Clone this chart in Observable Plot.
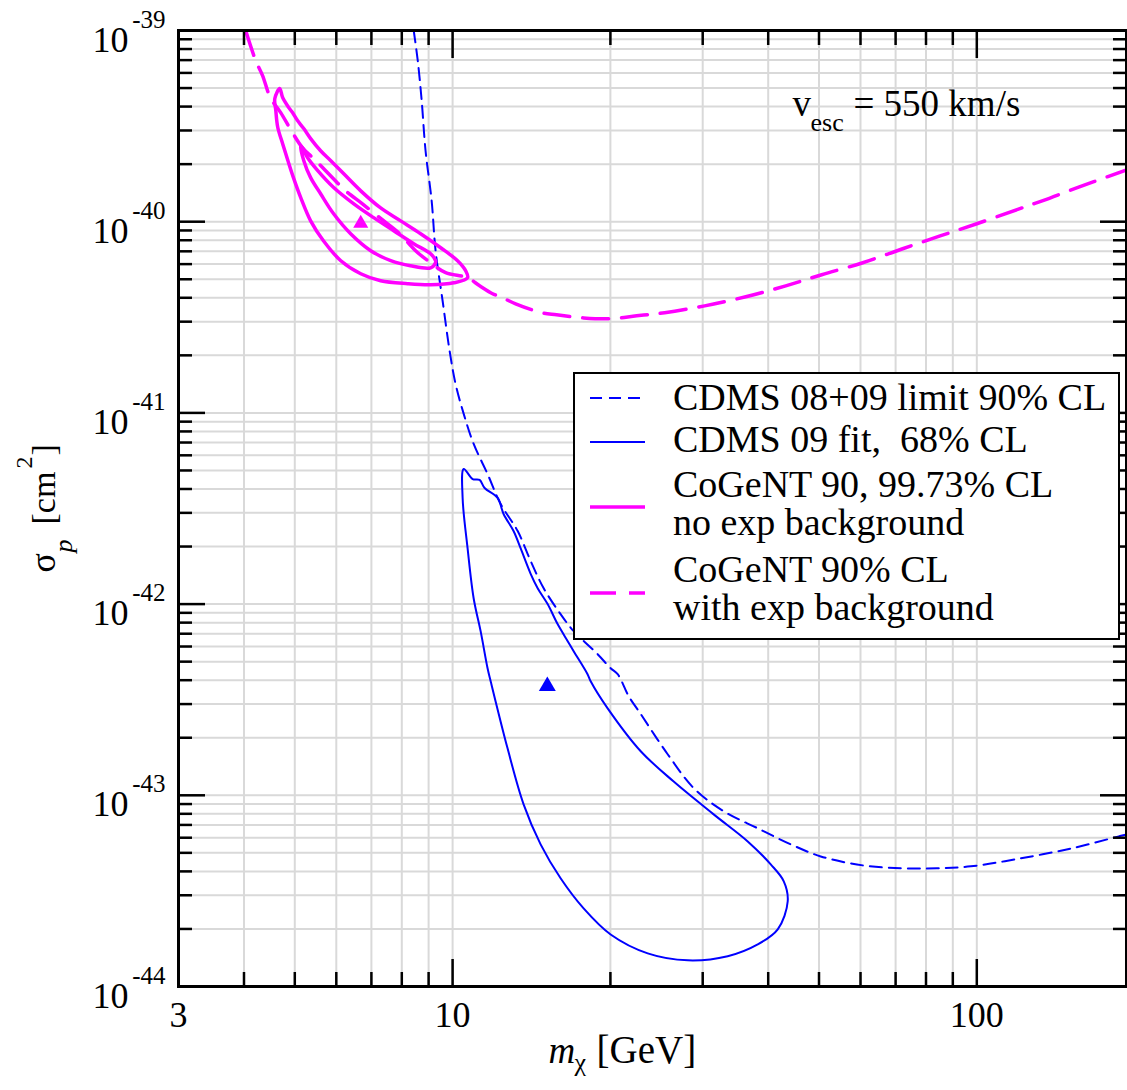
<!DOCTYPE html>
<html>
<head>
<meta charset="utf-8">
<script src="https://cdn.jsdelivr.net/npm/d3@7"></script>
<script src="https://cdn.jsdelivr.net/npm/@observablehq/plot@0.6"></script>
<style>
  body { margin: 0; background: #fff; }
  #wrap { position: relative; width: 1127px; height: 1090px; font-family: "Liberation Serif", "Times New Roman", serif; }
  #legend { position: absolute; left: 573px; top: 372px; }
</style>
</head>
<body>
<div id="wrap"></div>
<script>
// ---------- data (mass in GeV, cross section in cm^2) ----------
const cdmsLimit = [
  [8.43,1e-39],[8.58,6.97e-40],[8.73,4.30e-40],[8.88,2.35e-40],[9.12,1.29e-40],[9.28,7.05e-41],
  [9.57,3.86e-41],[9.87,2.11e-41],[10.13,1.42e-41],[10.50,9.88e-42],[10.97,6.88e-42],[11.66,4.79e-42],
  [12.35,3.34e-42],[13.31,2.41e-42],[14.09,1.68e-42],[14.92,1.21e-42],[16.07,8.86e-43],[17.02,7.22e-43],
  [18.91,5.47e-43],[20.02,4.62e-43],[20.65,4.30e-43],[21.67,3.30e-43],[22.85,2.66e-43],[25.72,1.64e-43],
  [28.84,1.09e-43],[32.90,8.25e-44],[38.20,6.72e-44],[44.17,5.54e-44],[50.38,4.79e-44],[60.6,4.30e-44],
  [72.2,4.15e-44],[83.9,4.15e-44],[97.4,4.25e-44],[121.3,4.68e-44],[151.8,5.28e-44],[186.6,6.10e-44],
  [193.3,6.25e-44]
];
const cdmsFit = [
  [10.50,5.09e-42],[10.92,4.51e-42],[11.26,4.46e-42],[11.51,4.05e-42],[12.19,3.59e-42],[12.51,2.96e-42],
  [13.07,2.41e-42],[13.48,1.96e-42],[14.09,1.44e-42],[14.53,1.21e-42],[15.18,1.00e-42],[15.86,7.86e-43],
  [16.58,6.40e-43],[17.02,5.67e-43],[18.09,4.30e-43],[18.34,3.95e-43],[19.76,2.85e-43],[22.85,1.70e-43],
  [26.41,1.18e-43],[31.48,7.95e-44],[36.56,5.74e-44],[40.45,4.35e-44],[42.83,3.55e-44],[43.58,2.79e-44],
  [41.71,1.99e-44],[38.20,1.66e-44],[33.48,1.44e-44],[28.09,1.37e-44],[23.56,1.49e-44],[20.02,1.87e-44],
  [17.78,2.56e-44],[16.07,3.68e-44],[14.72,5.54e-44],[13.66,8.97e-44],[12.73,1.76e-43],[11.82,3.95e-43],
  [11.66,4.62e-43],[11.31,7.22e-43],[10.97,1.07e-42],[10.68,1.96e-42],[10.45,3.59e-42]
];
const cogentOuter = [
  [4.68,4.97e-40],[4.74,4.46e-40],[4.87,3.95e-40],[4.95,3.72e-40],[5.06,3.38e-40],[5.20,3.07e-40],
  [5.36,2.72e-40],[5.60,2.35e-40],[5.85,2.09e-40],[6.20,1.78e-40],[6.68,1.45e-40],[7.29,1.18e-40],
  [7.96,1.01e-40],[8.69,8.65e-41],[9.49,7.31e-41],[10.22,6.25e-41],[10.59,5.54e-41],[10.68,5.09e-41],
  [10.05,4.79e-41],[9.08,4.68e-41],[8.21,4.74e-41],[7.29,4.91e-41],[6.68,5.34e-41],[6.12,6.25e-41],
  [5.67,7.95e-41],[5.36,1.01e-40],[5.13,1.34e-40],[4.97,1.70e-40],[4.85,2.09e-40],[4.74,2.56e-40],
  [4.64,3.11e-40],[4.60,3.81e-40],[4.58,4.41e-40]
];
const cogentInner = [
  [5.13,2.50e-40],[5.17,2.44e-40],[5.29,2.16e-40],[5.53,1.85e-40],[5.93,1.51e-40],[6.48,1.24e-40],
  [7.07,1.05e-40],[7.72,8.97e-41],[8.43,7.67e-41],[9.08,6.80e-41],[9.28,6.25e-41],[9.28,6.10e-41],
  [9.08,5.74e-41],[8.31,5.88e-41],[7.62,6.25e-41],[6.98,7.05e-41],[6.39,8.65e-41],[5.93,1.10e-40],
  [5.60,1.40e-40],[5.36,1.70e-40],[5.20,2.09e-40]
];
const cogentExp = [
  [4.03,1e-39],[4.21,6.97e-40],[4.34,5.81e-40],[4.49,4.46e-40],[4.70,3.72e-40],[4.95,2.92e-40],
  [5.17,2.44e-40],[5.48,2.09e-40],[5.85,1.74e-40],[6.25,1.45e-40],[6.73,1.24e-40],[7.29,1.04e-40],
  [7.89,8.76e-41],[8.50,7.05e-41],[9.08,6.10e-41],[9.70,5.41e-41],[10.68,5.09e-41],[11.26,4.62e-41],
  [11.92,4.20e-41],[12.46,4.00e-41],[13.19,3.72e-41],[14.79,3.34e-41],[15.79,3.26e-41],[17.78,3.14e-41],
  [20.02,3.11e-41],[22.45,3.22e-41],[25.38,3.34e-41],[30.26,3.63e-41],[36.25,4.05e-41],[43.2,4.62e-41],
  [50.6,5.28e-41],[60.6,6.10e-41],[72.2,7.22e-41],[85.4,8.45e-41],[100,9.76e-41],[119.7,1.16e-40],
  [133.7,1.29e-40],[149.8,1.45e-40],[167.2,1.62e-40],[193.3,1.87e-40]
];
const cogentBest = [{m: 6.68, s: 9.8e-41}];
const cdmsBest = [{m: 15.16, s: 3.72e-43}];

// ---------- axes ----------
const xDomain = [3, 193];
const yDomain = [1e-44, 1e-39];
const xMajor = [10, 100];
const xMinor = [4, 5, 6, 7, 8, 9, 20, 30, 40, 50, 60, 70, 80, 90];
const xTickLabels = [3, 10, 100];
const yDecades = [1e-44, 1e-43, 1e-42, 1e-41, 1e-40, 1e-39];
const yExponents = ["-44", "-43", "-42", "-41", "-40", "-39"];
const mantissas = [2, 3, 4, 5, 6, 7, 8, 9];
const yMinor = yDecades.slice(0, 5).flatMap(d => mantissas.map(m => m * d));
const xGrid = xMinor.concat(xMajor);
const yGrid = yMinor.concat(yDecades);

// ---------- legend ----------
const legendItems = [
  {lines: ["CDMS 08+09 limit 90% CL"], color: "#0000ff", width: 2, dash: "12,7"},
  {lines: ["CDMS 09 fit,  68% CL"], color: "#0000ff", width: 2, dash: null},
  {lines: ["CoGeNT 90, 99.73% CL", "no exp background"], color: "#ff00ff", width: 3.5, dash: null},
  {lines: ["CoGeNT 90% CL", "with exp background"], color: "#ff00ff", width: 3.5, dash: "26,13"}
];

const BLUE = "#0000ff", MAG = "#ff00ff", GRID = "#d9d9d9";
const tickStyle = {stroke: "black", strokeWidth: 2.5, tickFormat: () => "", label: null};
const P = d => d[0], S = d => d[1];

const chart = Plot.plot({
  width: 1127,
  height: 1090,
  marginLeft: 178,
  marginRight: 1,
  marginTop: 30,
  marginBottom: 104,
  style: {fontFamily: "Liberation Serif, Times New Roman, serif", background: "white", color: "black"},
  x: {type: "log", domain: xDomain, label: null},
  y: {type: "log", domain: yDomain, label: null},
  marks: [
    Plot.gridX(xGrid, {stroke: GRID, strokeOpacity: 1, strokeWidth: 2}),
    Plot.gridY(yGrid, {stroke: GRID, strokeOpacity: 1, strokeWidth: 2}),

    Plot.line(cdmsLimit, {x: P, y: S, stroke: BLUE, strokeWidth: 2, strokeDasharray: "12,7", curve: "catmull-rom", clip: true}),
    Plot.line(cdmsFit, {x: P, y: S, stroke: BLUE, strokeWidth: 2, curve: "catmull-rom-closed", clip: true}),
    Plot.line(cogentExp, {x: P, y: S, stroke: MAG, strokeWidth: 3.5, strokeDasharray: "26,13", curve: "catmull-rom", clip: true}),
    Plot.line(cogentOuter, {x: P, y: S, stroke: MAG, strokeWidth: 3.5, curve: "catmull-rom-closed", clip: true}),
    Plot.line(cogentInner, {x: P, y: S, stroke: MAG, strokeWidth: 3.5, curve: "catmull-rom-closed", clip: true}),
    Plot.dot(cogentBest, {x: "m", y: "s", symbol: "triangle", fill: MAG, r: 5.6, stroke: null}),
    Plot.dot(cdmsBest, {x: "m", y: "s", symbol: "triangle", fill: BLUE, r: 6.3, stroke: null}),

    // inward ticks on all four sides
    Plot.axisX(xMinor, {...tickStyle, anchor: "bottom", tickSize: 14, dy: -14}),
    Plot.axisX(xMajor, {...tickStyle, anchor: "bottom", tickSize: 27, dy: -27}),
    Plot.axisX(xMinor, {...tickStyle, anchor: "top", tickSize: 14, dy: 14}),
    Plot.axisX(xMajor, {...tickStyle, anchor: "top", tickSize: 27, dy: 27}),
    Plot.axisY(yMinor, {...tickStyle, anchor: "left", tickSize: 14, dx: 14}),
    Plot.axisY(yDecades, {...tickStyle, anchor: "left", tickSize: 27, dx: 27}),
    Plot.axisY(yMinor, {...tickStyle, anchor: "right", tickSize: 14, dx: -14}),
    Plot.axisY(yDecades, {...tickStyle, anchor: "right", tickSize: 27, dx: -27}),
    Plot.frame({stroke: "black", strokeWidth: 3}),

    // tick labels
    Plot.text(xTickLabels, {x: d => d, frameAnchor: "bottom", text: d => String(d), lineAnchor: "bottom", dy: 40, fontSize: 36, fill: "black"}),
    Plot.text(yDecades, {y: d => d, frameAnchor: "left", text: () => "10", textAnchor: "end", lineAnchor: "bottom", dx: -50, dy: 21, fontSize: 36, fill: "black"}),
    Plot.text(yDecades, {y: d => d, frameAnchor: "left", text: (d, i) => yExponents[i], textAnchor: "end", lineAnchor: "bottom", dx: -13, dy: -3, fontSize: 25, fill: "black"}),

    // x axis label: m_chi [GeV]
    Plot.text(["m"], {frameAnchor: "bottom", text: d => d, textAnchor: "start", lineAnchor: "bottom", dx: -104, dy: 76, fontSize: 37, fontStyle: "italic", fill: "black"}),
    Plot.text(["χ"], {frameAnchor: "bottom", text: d => d, textAnchor: "start", lineAnchor: "bottom", dx: -78, dy: 84, fontSize: 26, fill: "black"}),
    Plot.text(["[GeV]"], {frameAnchor: "bottom", text: d => d, textAnchor: "start", lineAnchor: "bottom", dx: -56, dy: 76, fontSize: 39, fill: "black"}),

    // y axis label: sigma_p [cm^2]
    Plot.text(["σ"], {frameAnchor: "left", text: d => d, textAnchor: "start", lineAnchor: "bottom", rotate: -90, dx: -124, dy: 64, fontSize: 36, fill: "black"}),
    Plot.text(["p"], {frameAnchor: "left", text: d => d, textAnchor: "start", lineAnchor: "bottom", rotate: -90, dx: -107, dy: 44, fontSize: 26, fontStyle: "italic", fill: "black"}),
    Plot.text(["[cm"], {frameAnchor: "left", text: d => d, textAnchor: "start", lineAnchor: "bottom", rotate: -90, dx: -124, dy: 16, fontSize: 34, fill: "black"}),
    Plot.text(["2"], {frameAnchor: "left", text: d => d, textAnchor: "start", lineAnchor: "bottom", rotate: -90, dx: -147, dy: -40, fontSize: 24, fill: "black"}),
    Plot.text(["]"], {frameAnchor: "left", text: d => d, textAnchor: "start", lineAnchor: "bottom", rotate: -90, dx: -124, dy: -53, fontSize: 34, fill: "black"}),

    // annotation v_esc = 550 km/s
    Plot.text(["v"], {frameAnchor: "top-left", text: d => d, textAnchor: "start", lineAnchor: "bottom", dx: 614, dy: 85, fontSize: 37, fill: "black"}),
    Plot.text(["esc"], {frameAnchor: "top-left", text: d => d, textAnchor: "start", lineAnchor: "bottom", dx: 632, dy: 100, fontSize: 26, fill: "black"}),
    Plot.text(["= 550 km/s"], {frameAnchor: "top-left", text: d => d, textAnchor: "start", lineAnchor: "bottom", dx: 675, dy: 85, fontSize: 37, fill: "black"})
  ]
});

const wrap = document.getElementById("wrap");
wrap.appendChild(chart);

// legend box drawn over the plot area
const lw = 547, lh = 268;
const lg = d3.select(wrap).append("svg")
  .attr("id", "legend").attr("width", lw).attr("height", lh)
  .style("font-family", "Liberation Serif, Times New Roman, serif");
lg.append("rect").attr("x", 1).attr("y", 1).attr("width", lw - 2).attr("height", lh - 2)
  .attr("fill", "white").attr("stroke", "black").attr("stroke-width", 2);
const lineY = [26, 70, 135, 221];
const textY = [[38], [80], [125, 163], [210, 248]];
legendItems.forEach((it, i) => {
  lg.append("line").attr("x1", 17).attr("x2", 72).attr("y1", lineY[i]).attr("y2", lineY[i])
    .attr("stroke", it.color).attr("stroke-width", it.width)
    .attr("stroke-dasharray", it.dash);
  it.lines.forEach((t, j) => {
    lg.append("text").attr("x", 100).attr("y", textY[i][j]).attr("font-size", 38)
      .attr("fill", "black").style("white-space", "pre").text(t);
  });
});
</script>
</body>
</html>
